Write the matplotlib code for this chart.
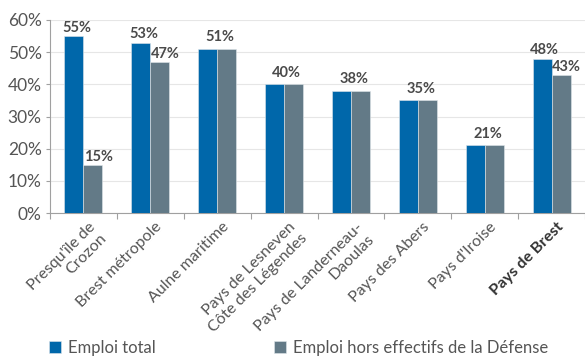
import matplotlib
matplotlib.use("Agg")
import matplotlib.pyplot as plt
import numpy as np

plt.rcParams['font.family'] = ['Lato', 'DejaVu Sans']

categories = ["Presqu'île de\nCrozon", "Brest métropole", "Aulne maritime",
              "Pays de Lesneven\nCôte des Légendes", "Pays de Landerneau-\nDaoulas",
              "Pays des Abers", "Pays d'Iroise", "Pays de Brest"]
emploi_total = [55, 53, 51, 40, 38, 35, 21, 48]
emploi_hors_defense = [15, 47, 51, 40, 38, 35, 21, 43]
series_names = ["Emploi total", "Emploi hors effectifs de la Défense"]
yticks = [0, 10, 20, 30, 40, 50, 60]

blue = "#0067AA"
grey = "#637A87"
txt = "#4a4a4a"

fig = plt.figure(figsize=(5.85, 3.6), dpi=100)
ax = fig.add_axes([50/585, 1-213/360, 535/585, 193/360])

x = np.arange(len(categories))
w = 0.285
b1 = ax.bar(x - w/2, emploi_total, w, color=blue, label=series_names[0],
            edgecolor="#dfe6ea", linewidth=0.4, zorder=3)
b2 = ax.bar(x + w/2, emploi_hors_defense, w, color=grey, label=series_names[1],
            edgecolor="#dfe6ea", linewidth=0.4, zorder=3)

lf = 10.5
for i, (a, b) in enumerate(zip(emploi_total, emploi_hors_defense)):
    if a == b:
        ax.annotate(f"{a}%", (x[i], a), xytext=(2, 5.5), textcoords="offset points",
                    ha="center", va="baseline", fontsize=lf, fontweight="bold", color=txt)
    else:
        ax.annotate(f"{a}%", (x[i] - w/2, a), xytext=(2, 3), textcoords="offset points",
                    ha="center", va="baseline", fontsize=lf, fontweight="bold", color=txt)
        ax.annotate(f"{b}%", (x[i] + w/2, b), xytext=(4, 3), textcoords="offset points",
                    ha="center", va="baseline", fontsize=lf, fontweight="bold", color=txt)

ax.set_xlim(-0.5, len(categories) - 0.5)
ax.set_ylim(0, 60)
ax.set_yticks(yticks)
ax.set_yticklabels([f"{v}%" for v in yticks], fontsize=12.5, color="#555555")
ax.yaxis.grid(True, color="#e6e6e6", linewidth=0.8, zorder=0)
ax.set_axisbelow(True)

ax.set_xticks(np.arange(len(categories) + 1) - 0.5)
ax.set_xticklabels([])
ax.tick_params(axis="x", length=4, color="#a0a0a0", width=0.8)
ax.tick_params(axis="y", length=3, color="#a0a0a0", width=0.8, pad=3)

for i, c in enumerate(categories):
    bold = (c == "Pays de Brest")
    ax.text(x[i] + 0.07, -2.2, c, rotation=45, rotation_mode="anchor",
            ha="right", va="top", fontsize=11.5,
            fontweight="bold" if bold else "normal",
            color="#333333" if bold else "#555555", transform=ax.transData)

for s in ["top", "right"]:
    ax.spines[s].set_visible(False)
ax.spines["left"].set_color("#a0a0a0")
ax.spines["bottom"].set_color("#a0a0a0")
ax.spines["left"].set_linewidth(0.8)
ax.spines["bottom"].set_linewidth(0.8)

leg = fig.legend(handles=[b1, b2], labels=series_names, loc="lower left",
                 bbox_to_anchor=(37/585, -0.022), ncol=2, frameon=False,
                 fontsize=12, handlelength=0.74, handleheight=0.74,
                 handletextpad=0.42, columnspacing=7.1, borderaxespad=0.3)
for t in leg.get_texts():
    t.set_color("#555555")

fig.savefig("out.png", dpi=100)
